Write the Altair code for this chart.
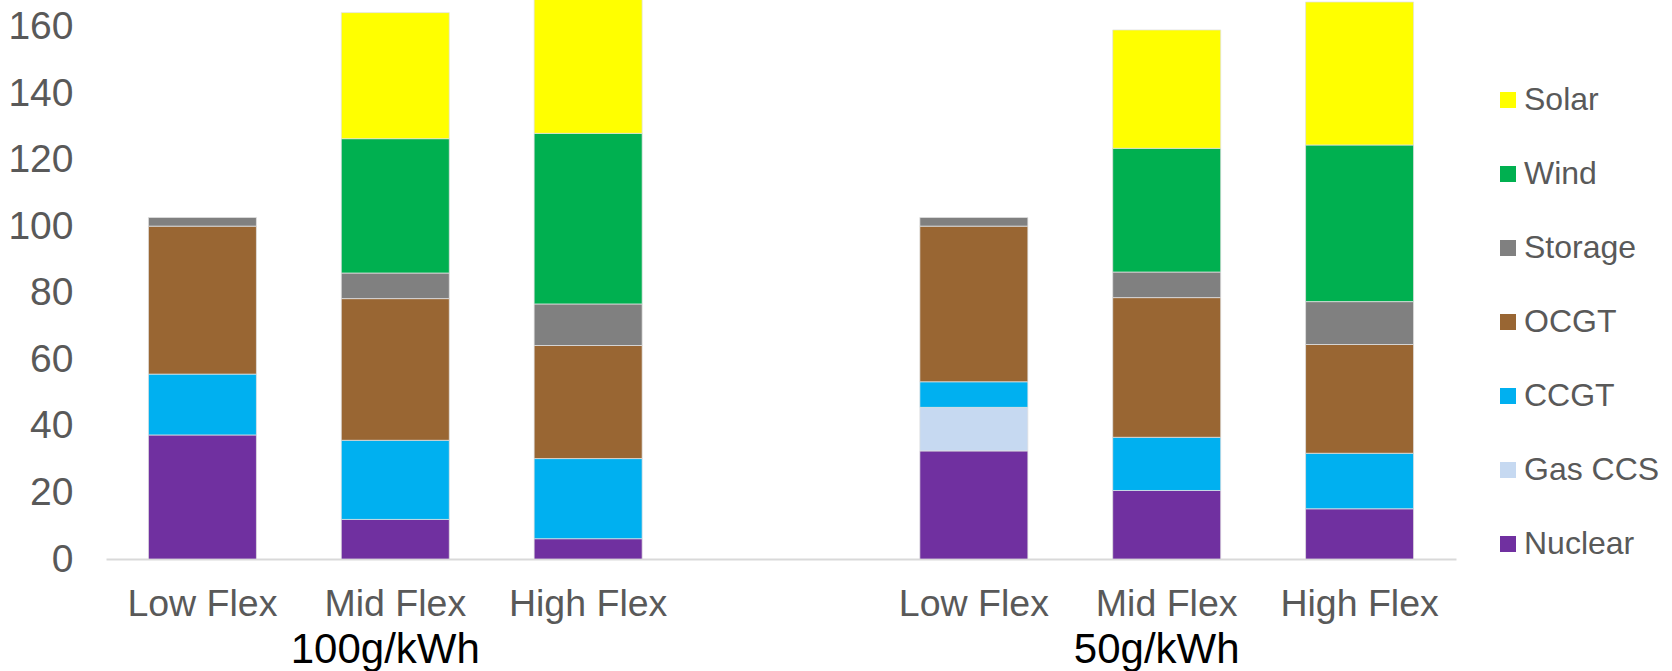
import altair as alt
import pandas as pd

# Bar slots along the x axis: two emission caps, three flexibility levels each,
# with an empty slot separating the two groups.
group_labels = ["100g/kWh", "50g/kWh"]
flex_levels = ["Low Flex", "Mid Flex", "High Flex"]
slots = [
    "100|Low Flex", "100|Mid Flex", "100|High Flex",
    "gap",
    "50|Low Flex", "50|Mid Flex", "50|High Flex",
]
bar_slots = [s for s in slots if s != "gap"]

# Capacity by technology (GW), one value per bar in bar_slots order
nuclear = [37.3, 11.9, 6.1, 32.5, 20.6, 15.1]
gas_ccs = [0.0, 0.0, 0.0, 13.1, 0.0, 0.0]
ccgt = [18.3, 23.8, 24.1, 7.7, 16.0, 16.7]
ocgt = [44.5, 42.6, 34.0, 46.8, 42.0, 32.7]
storage = [2.6, 7.7, 12.5, 2.6, 7.7, 12.9]
wind = [0.0, 40.4, 51.3, 0.0, 37.2, 47.1]
solar = [0.0, 37.9, 47.0, 0.0, 35.6, 43.0]

# Stack order from the bottom up
technologies = ["Nuclear", "Gas CCS", "CCGT", "OCGT", "Storage", "Wind", "Solar"]
series = [nuclear, gas_ccs, ccgt, ocgt, storage, wind, solar]
colors = {
    "Solar": "#FFFF00",
    "Wind": "#00B050",
    "Storage": "#808080",
    "OCGT": "#996633",
    "CCGT": "#00B0F0",
    "Gas CCS": "#C6D9F1",
    "Nuclear": "#7030A0",
}
legend_order = ["Solar", "Wind", "Storage", "OCGT", "CCGT", "Gas CCS", "Nuclear"]

rows = []
for rank, (tech, values) in enumerate(zip(technologies, series)):
    for slot, v in zip(bar_slots, values):
        if v > 0:
            rows.append({"slot": slot, "tech": tech, "value": v, "rank": rank})
bars_df = pd.DataFrame(rows)

groups_df = pd.DataFrame({"slot": ["100|Mid Flex", "50|Mid Flex"], "label": group_labels})

FONT = "Liberation Sans"
PLOT_W, PLOT_H = 1350, 559

x_scale = alt.Scale(domain=slots, paddingInner=0.44, paddingOuter=0.22)
y_scale = alt.Scale(domain=[0, 168.1], nice=False, zero=True)

bars = (
    alt.Chart(bars_df)
    .mark_bar(clip=True, stroke="#e2e2e2", strokeWidth=0.75)
    .encode(
        x=alt.X(
            "slot:N",
            scale=x_scale,
            title=None,
            axis=alt.Axis(
                labelExpr="indexof(datum.value, '|') >= 0 ? split(datum.value, '|')[1] : ''",
                labelAngle=0,
                labelFont=FONT,
                labelFontSize=37.5,
                labelColor="#595959",
                labelPadding=26,
                ticks=False,
                tickSize=0,
                domainColor="#d9d9d9",
                domainWidth=2,
                grid=False,
            ),
        ),
        y=alt.Y(
            "value:Q",
            stack="zero",
            scale=y_scale,
            title=None,
            axis=alt.Axis(
                values=[0, 20, 40, 60, 80, 100, 120, 140, 160],
                labelFont=FONT,
                labelFontSize=39,
                labelColor="#595959",
                labelPadding=33,
                ticks=False,
                tickSize=0,
                domain=False,
                grid=False,
            ),
        ),
        color=alt.Color(
            "tech:N",
            scale=alt.Scale(domain=legend_order, range=[colors[t] for t in legend_order]),
            legend=alt.Legend(
                title=None,
                orient="none",
                legendX=1386,
                legendY=84,
                symbolType="square",
                symbolSize=256,
                symbolStrokeWidth=0,
                labelFont=FONT,
                labelFontSize=32,
                labelColor="#595959",
                labelOffset=0,
                rowPadding=42,
            ),
        ),
        order=alt.Order("rank:Q", sort="ascending"),
    )
)

group_text = (
    alt.Chart(groups_df)
    .mark_text(font=FONT, fontSize=42, color="#000000", baseline="alphabetic", align="center", dx=-10)
    .encode(
        x=alt.X("slot:N", scale=x_scale),
        y=alt.value(663),
        text="label:N",
    )
)

chart = (
    alt.layer(bars, group_text)
    .properties(
        width=PLOT_W,
        height=PLOT_H,
        autosize=alt.AutoSizeParams(type="none"),
        padding={"left": 106, "top": 0, "right": 1672 - 106 - PLOT_W, "bottom": 671 - PLOT_H},
        background="#ffffff",
    )
    .configure_view(strokeWidth=0)
)

chart.save("out.html", embed_options={"renderer": "svg", "actions": False})
